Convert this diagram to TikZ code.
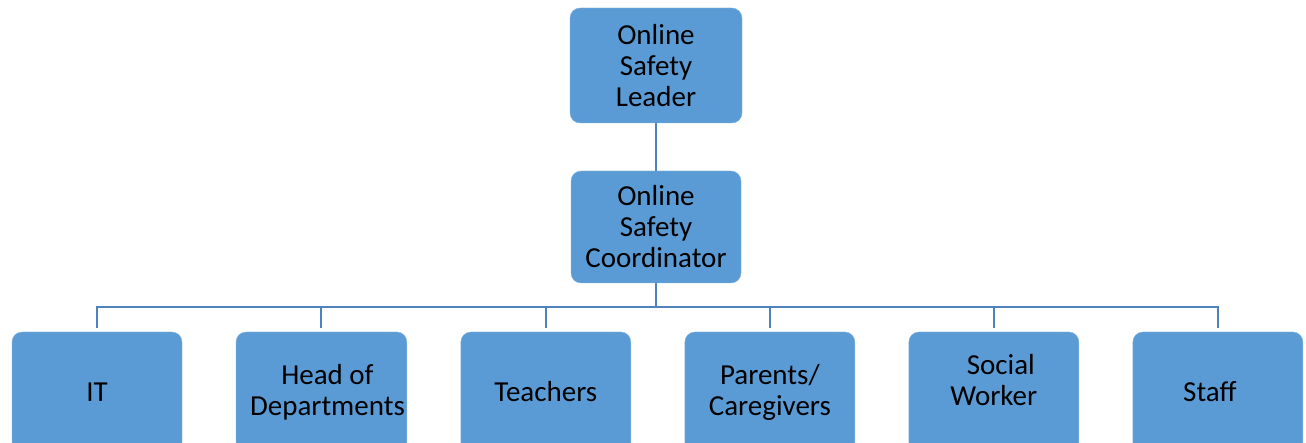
\documentclass[tikz,border=0pt]{standalone}
\usepackage{fontspec}
\setmainfont{Carlito}
\usepackage{xcolor}
\usetikzlibrary{positioning}

\definecolor{boxblue}{HTML}{5B9BD5}
\definecolor{linkblue}{HTML}{4F81BD}

\begin{document}
\begin{tikzpicture}[
        x=1pt, y=-1pt,
        role/.style={draw=white!25!boxblue, fill=boxblue, rounded corners=10pt, align=center, inner sep=2pt, outer sep=0pt, font=\fontsize{29}{31}\selectfont},
        head/.style={role, minimum width=172pt, minimum height=115pt},
        member/.style={role, minimum width=170pt, minimum height=120pt},
        link/.style={draw=linkblue, line width=2pt}
    ]
        \clip (0,0) rectangle (1306,443);

        \node[head] (leader) at (656,65.5) {Online\\Safety\\Leader};
        \node[head, minimum width=170pt, minimum height=112pt, below=48pt of leader] (coordinator) {Online\\Safety\\Coordinator};

        % bottom row, left to right
        \node[member] (it) at (97,392) {IT};
        \node[member, right=54pt of it] (heads) {\hspace{12pt}Head of\\\hspace{12pt}Departments};
        \node[member, right=54pt of heads] (teachers) {Teachers};
        \node[member, right=54pt of teachers] (parents) {Parents/\\Caregivers};
        \node[member, text depth=24pt, right=54pt of parents] (social) {\hspace{14pt}Social\\Worker};
        \node[member, right=54pt of social] (staff) {\raisebox{-4pt}{\hspace{-16pt}Staff}};

        \coordinate[below=24pt of coordinator.south] (bus);

        \draw[link] (leader) -- (coordinator);
        \draw[link] (coordinator) -- (bus);
        \draw[link, shorten >=4pt] (bus) -| (it.north);
        \draw[link, shorten >=4pt] (bus) -| (heads.north);
        \draw[link, shorten >=4pt] (bus) -| (teachers.north);
        \draw[link, shorten >=4pt] (bus) -| (parents.north);
        \draw[link, shorten >=4pt] (bus) -| (social.north);
        \draw[link, shorten >=4pt] (bus) -| (staff.north);
    \end{tikzpicture}
\end{document}
